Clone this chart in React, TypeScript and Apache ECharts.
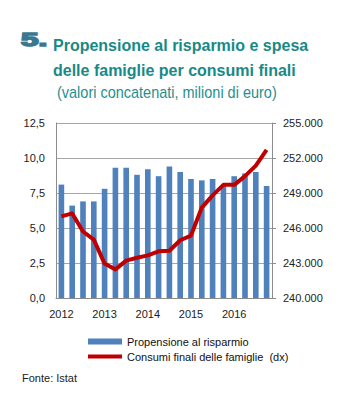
import React, { useEffect, useRef } from "react";
import * as echarts from "echarts";

const quarters = [
  "2012-T1", "2012-T2", "2012-T3", "2012-T4",
  "2013-T1", "2013-T2", "2013-T3", "2013-T4",
  "2014-T1", "2014-T2", "2014-T3", "2014-T4",
  "2015-T1", "2015-T2", "2015-T3", "2015-T4",
  "2016-T1", "2016-T2", "2016-T3", "2016-T4",
];
const propensione = [
  8.1, 6.6, 6.9, 6.9, 7.8, 9.3, 9.3, 8.8, 9.2, 8.7,
  9.4, 9.0, 8.5, 8.4, 8.5, 8.0, 8.7, 8.9, 9.0, 8.0,
];
const consumi = [
  247000, 247250, 245700, 245000, 242950, 242450, 243200, 243450, 243650, 244000,
  244050, 244950, 245350, 247750, 248800, 249700, 249700, 250450, 251350, 252700,
];
const barName = "Propensione al risparmio";
const lineName = "Consumi finali delle famiglie  (dx)";
const titleNum = "5.";
const titleLines = [
  "Propensione al risparmio e spesa",
  "delle famiglie per consumi finali",
];
const subtitle = "(valori concatenati, milioni di euro)";
const source = "Fonte: Istat";

const FONT = "'Liberation Sans', Arial, sans-serif";

export default function App() {
  const ref = useRef<HTMLDivElement>(null);
  useEffect(() => {
    document.body.style.margin = "0";
    if (!ref.current) return;
    const chart = echarts.init(ref.current, null, { renderer: "svg" });
    chart.setOption({
      animation: false,
      backgroundColor: "#ffffff",
      textStyle: { fontFamily: FONT },
      graphic: [
        {
          type: "text",
          x: 21,
          y: 40,
          scaleX: 1.75,
          style: {
            text: titleNum,
            font: `bold 18px ${FONT}`,
            fill: "#3a7892",
            stroke: "#3a7892",
            lineWidth: 1.5,
            verticalAlign: "middle",
          },
        },
        {
          type: "text",
          x: 53,
          y: 45,
          style: {
            text: titleLines[0],
            font: `bold 16px ${FONT}`,
            fill: "#178a87",
            verticalAlign: "middle",
          },
        },
        {
          type: "text",
          x: 53,
          y: 70,
          style: {
            text: titleLines[1],
            font: `bold 16px ${FONT}`,
            fill: "#178a87",
            verticalAlign: "middle",
          },
        },
        {
          type: "text",
          x: 57,
          y: 92,
          scaleX: 0.906,
          style: {
            text: subtitle,
            font: `16px ${FONT}`,
            fill: "#1f9090",
            verticalAlign: "middle",
          },
        },
        {
          type: "text",
          x: 22,
          y: 378,
          style: {
            text: source,
            font: `11px ${FONT}`,
            fill: "#222",
            verticalAlign: "middle",
          },
        },
      ],
      legend: {
        orient: "vertical",
        left: 81,
        top: 331,
        itemWidth: 34,
        itemHeight: 6,
        itemGap: 4,
        textStyle: { fontSize: 11, color: "#111", fontFamily: FONT },
        data: [
          { name: barName, icon: "rect" },
          {
            name: lineName,
            itemStyle: { opacity: 0 },
            lineStyle: { width: 4, color: "#c00000" },
          },
        ],
      },
      grid: { left: 56, right: 80, top: 123, bottom: 102 },
      xAxis: {
        type: "category",
        data: quarters,
        axisTick: { show: false },
        axisLine: { lineStyle: { color: "#8c8c8c" } },
        axisLabel: {
          interval: 3,
          margin: 10,
          fontSize: 11,
          color: "#222",
          formatter: (v: string) => v.slice(0, 4),
        },
      },
      yAxis: [
        {
          type: "value",
          min: 0,
          max: 12.5,
          interval: 2.5,
          axisLine: { show: true, lineStyle: { color: "#8c8c8c" } },
          axisTick: { show: false },
          splitLine: { lineStyle: { color: "#a6a6a6" } },
          axisLabel: {
            margin: 11,
            fontSize: 11,
            color: "#222",
            formatter: (v: number) => v.toFixed(1).replace(".", ","),
          },
        },
        {
          type: "value",
          min: 240000,
          max: 255000,
          interval: 3000,
          position: "right",
          axisLine: { show: true, lineStyle: { color: "#8c8c8c" } },
          axisTick: { show: true, length: 4, lineStyle: { color: "#8c8c8c" } },
          splitLine: { show: false },
          axisLabel: {
            margin: 11,
            fontSize: 11,
            color: "#222",
            formatter: (v: number) =>
              String(v).replace(/\B(?=(\d{3})+(?!\d))/g, "."),
          },
        },
      ],
      series: [
        {
          name: barName,
          type: "bar",
          data: propensione,
          barWidth: "52%",
          itemStyle: { color: "#4f81bd" },
        },
        {
          name: lineName,
          type: "line",
          yAxisIndex: 1,
          data: consumi,
          symbol: "none",
          lineStyle: { color: "#c00000", width: 4, join: "round" },
          itemStyle: { color: "#c00000" },
        },
      ],
    });
    return () => chart.dispose();
  }, []);
  return <div ref={ref} style={{ width: 352, height: 400 }} />;
}
